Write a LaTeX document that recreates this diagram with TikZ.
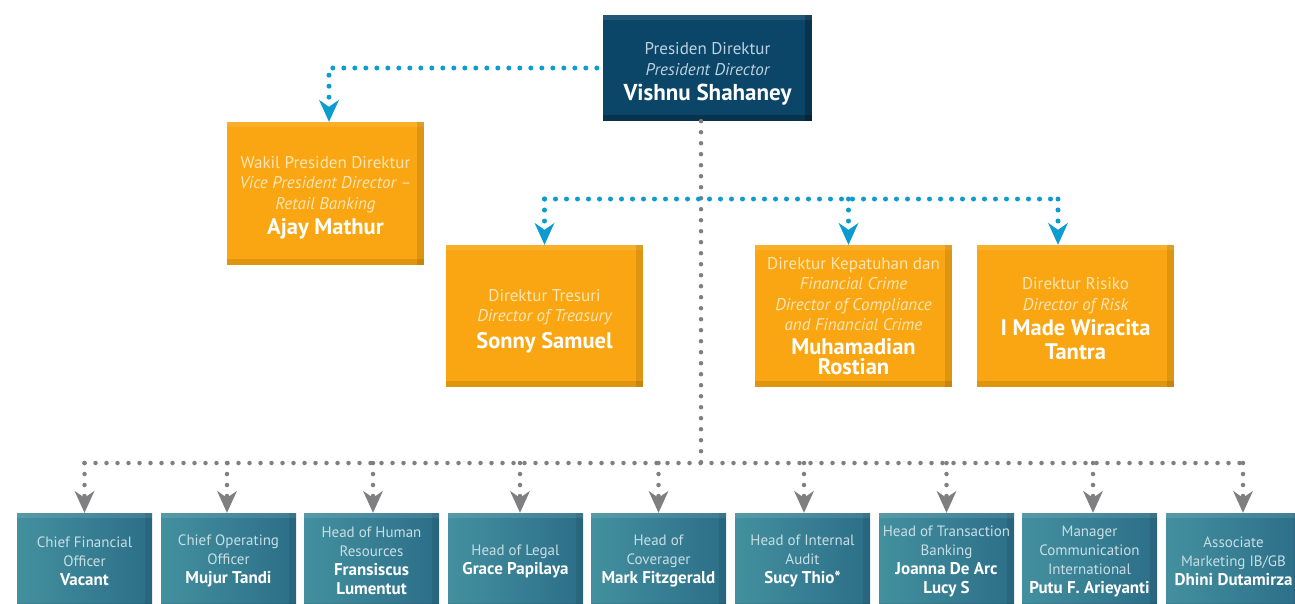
\documentclass[tikz,border=0pt]{standalone}
\usepackage{fontspec}
\setmainfont{PT Sans}
\usetikzlibrary{arrows.meta}
\definecolor{navyc}{HTML}{0B4568}
\definecolor{navytxt}{HTML}{BDD2E0}
\definecolor{orgc}{HTML}{F9A612}
\definecolor{orgtxt}{HTML}{FDE5B5}
\definecolor{tealL}{HTML}{43909F}
\definecolor{tealR}{HTML}{2C6E88}
\definecolor{tealtxt}{HTML}{C9DEE4}
\definecolor{dotblue}{HTML}{0D9CCF}
\definecolor{dotgray}{HTML}{7F7F81}
\newcommand\fsBigB{\fontsize{23}{25}\selectfont\bfseries\color{white}}
\newcommand\fsMidB{\fontsize{22.5}{23}\selectfont\bfseries\color{white}}
\newcommand\fsSmB{\fontsize{17}{19}\selectfont\bfseries\color{white}}
\newcommand\topgap[1]{\rule{0pt}{#1}}
\tikzset{
  shadowfx/.style={path picture={
    \fill[white,opacity=0.10] (path picture bounding box.north west) rectangle ([yshift=-5pt]path picture bounding box.north east);
    \fill[black,opacity=#1] ([xshift=-7pt]path picture bounding box.north east) rectangle (path picture bounding box.south east);
    \fill[black,opacity=#1] ([yshift=6pt]path picture bounding box.south west) rectangle (path picture bounding box.south east);
  }},
  navybox/.style={rectangle, inner sep=0pt, minimum width=209pt, minimum height=106pt, align=center,
    fill=navyc, text=navytxt, font=\fontsize{17}{21}\selectfont, shadowfx=0.25},
  orgbox/.style={rectangle, inner sep=0pt, minimum width=197pt, minimum height=142pt, align=center,
    fill=orgc, text=orgtxt, font=\fontsize{17}{20.5}\selectfont, shadowfx=0.10},
  tealbox/.style={rectangle, inner sep=0pt, minimum width=135pt, minimum height=96pt, align=center,
    left color=tealL, right color=tealR, text=tealtxt, font=\fontsize{15}{19}\selectfont, shadowfx=0.08},
  bluedot/.style={draw=dotblue, line width=5pt, line cap=round, dash pattern=on 0pt off 11pt},
  graydot/.style={draw=dotgray, line width=4.5pt, line cap=round, dash pattern=on 0pt off 11pt},
  bluetip/.style={-{Stealth[length=22pt,width=20pt,inset=7pt,line width=0pt,fill=dotblue,color=dotblue]}},
  graytip/.style={-{Stealth[length=22pt,width=20pt,inset=7pt,line width=0pt,fill=dotgray,color=dotgray]}},
}
\begin{document}
\begin{tikzpicture}[x=1pt,y=-1pt]
\useasboundingbox (0,0) rectangle (1295,603);
\fill[white] (0,0) rectangle (1295,603);

% nodes
\node[navybox] (pres) at (707.5,68) {\topgap{23pt}Presiden Direktur\\ {\itshape President Director}\\[4pt] {\fsBigB Vishnu Shahaney}};
\node[orgbox, minimum height=143pt] (vp) at (325.5,193.5) {\topgap{21pt}Wakil Presiden Direktur\\ {\itshape Vice President Director –}\\ {\itshape Retail Banking}\\[5pt] {\fsMidB Ajay Mathur}};
\node[orgbox] (tre) at (544.5,316) {\topgap{22pt}Direktur Tresuri\\ {\itshape Director of Treasury}\\[6pt] {\fsMidB Sonny Samuel}};
\node[orgbox] (comp) at (853.5,316) {Direktur Kepatuhan dan\\ {\itshape Financial Crime}\\ {\itshape Director of Compliance}\\ {\itshape and Financial Crime}\\[3pt] {\fsMidB Muhamadian}\\ {\fsMidB Rostian}};
\node[orgbox] (risk) at (1075.5,316) {\topgap{17pt}Direktur Risiko\\ {\itshape Director of Risk}\\[5pt] {\fsMidB I Made Wiracita}\\[3pt] {\fsMidB Tantra}};

\node[tealbox] (b1) at (84.5,561) {Chief Financial\\ Officer\\ {\fsSmB Vacant}};
\node[tealbox] (b2) at (228.5,561) {Chief Operating\\ Officer\\ {\fsSmB Mujur Tandi}};
\node[tealbox] (b3) at (371.5,561) {Head of Human\\ Resources\\ {\fsSmB Fransiscus}\\ {\fsSmB Lumentut}};
\node[tealbox] (b4) at (515.5,561) {Head of Legal\\ {\fsSmB Grace Papilaya}};
\node[tealbox] (b5) at (658.5,561) {Head of\\ Coverager\\ {\fsSmB Mark Fitzgerald}};
\node[tealbox] (b6) at (802.5,561) {Head of Internal\\ Audit\\ {\fsSmB Sucy Thio*}};
\node[tealbox] (b7) at (946.5,561) {Head of Transaction\\ Banking\\ {\fsSmB Joanna De Arc}\\ {\fsSmB Lucy S}};
\node[tealbox] (b8) at (1089.5,561) {Manager\\ Communication\\ International\\ {\fsSmB Putu F. Arieyanti}};
\node[tealbox] (b9) at (1233.5,561) {Associate\\ Marketing IB/GB\\ {\fsSmB Dhini Dutamirza}};

% junctions
\coordinate (j1) at (701,199);
\coordinate (j2) at (701,463);

% president to vice president
\draw[bluedot,bluetip] ([xshift=-6pt]pres.west) -| ([xshift=3.5pt]vp.north);

% main gray trunk
\draw[graydot] ([xshift=-6.5pt]pres.south) -- (j2);

% directors
\draw[bluedot] (tre.north |- j1) -- ([xshift=-17.5pt]risk.north |- j1);
\draw[bluedot,bluetip] (tre.north |- j1) -- (tre.north);
\draw[bluedot,bluetip] ([xshift=-5pt]comp.north |- j1) -- ([xshift=-5pt]comp.north);
\draw[bluedot,bluetip] ([xshift=-17.5pt]risk.north |- j1) -- ([xshift=-17.5pt]risk.north);

% heads
\draw[graydot] (b1.north |- j2) -- ([xshift=9.5pt]b9.north |- j2);
\draw[graydot,graytip] (b1.north |- j2) -- (b1.north);
\draw[graydot,graytip] ([xshift=-1.5pt]b2.north |- j2) -- ([xshift=-1.5pt]b2.north);
\draw[graydot,graytip] ([xshift=1.5pt]b3.north |- j2) -- ([xshift=1.5pt]b3.north);
\draw[graydot,graytip] ([xshift=4.5pt]b4.north |- j2) -- ([xshift=4.5pt]b4.north);
\draw[graydot,graytip] (b5.north |- j2) -- (b5.north);
\draw[graydot,graytip] ([xshift=1.5pt]b6.north |- j2) -- ([xshift=1.5pt]b6.north);
\draw[graydot,graytip] (b7.north |- j2) -- (b7.north);
\draw[graydot,graytip] ([xshift=3.5pt]b8.north |- j2) -- ([xshift=3.5pt]b8.north);
\draw[graydot,graytip] ([xshift=9.5pt]b9.north |- j2) -- ([xshift=9.5pt]b9.north);
\end{tikzpicture}
\end{document}
